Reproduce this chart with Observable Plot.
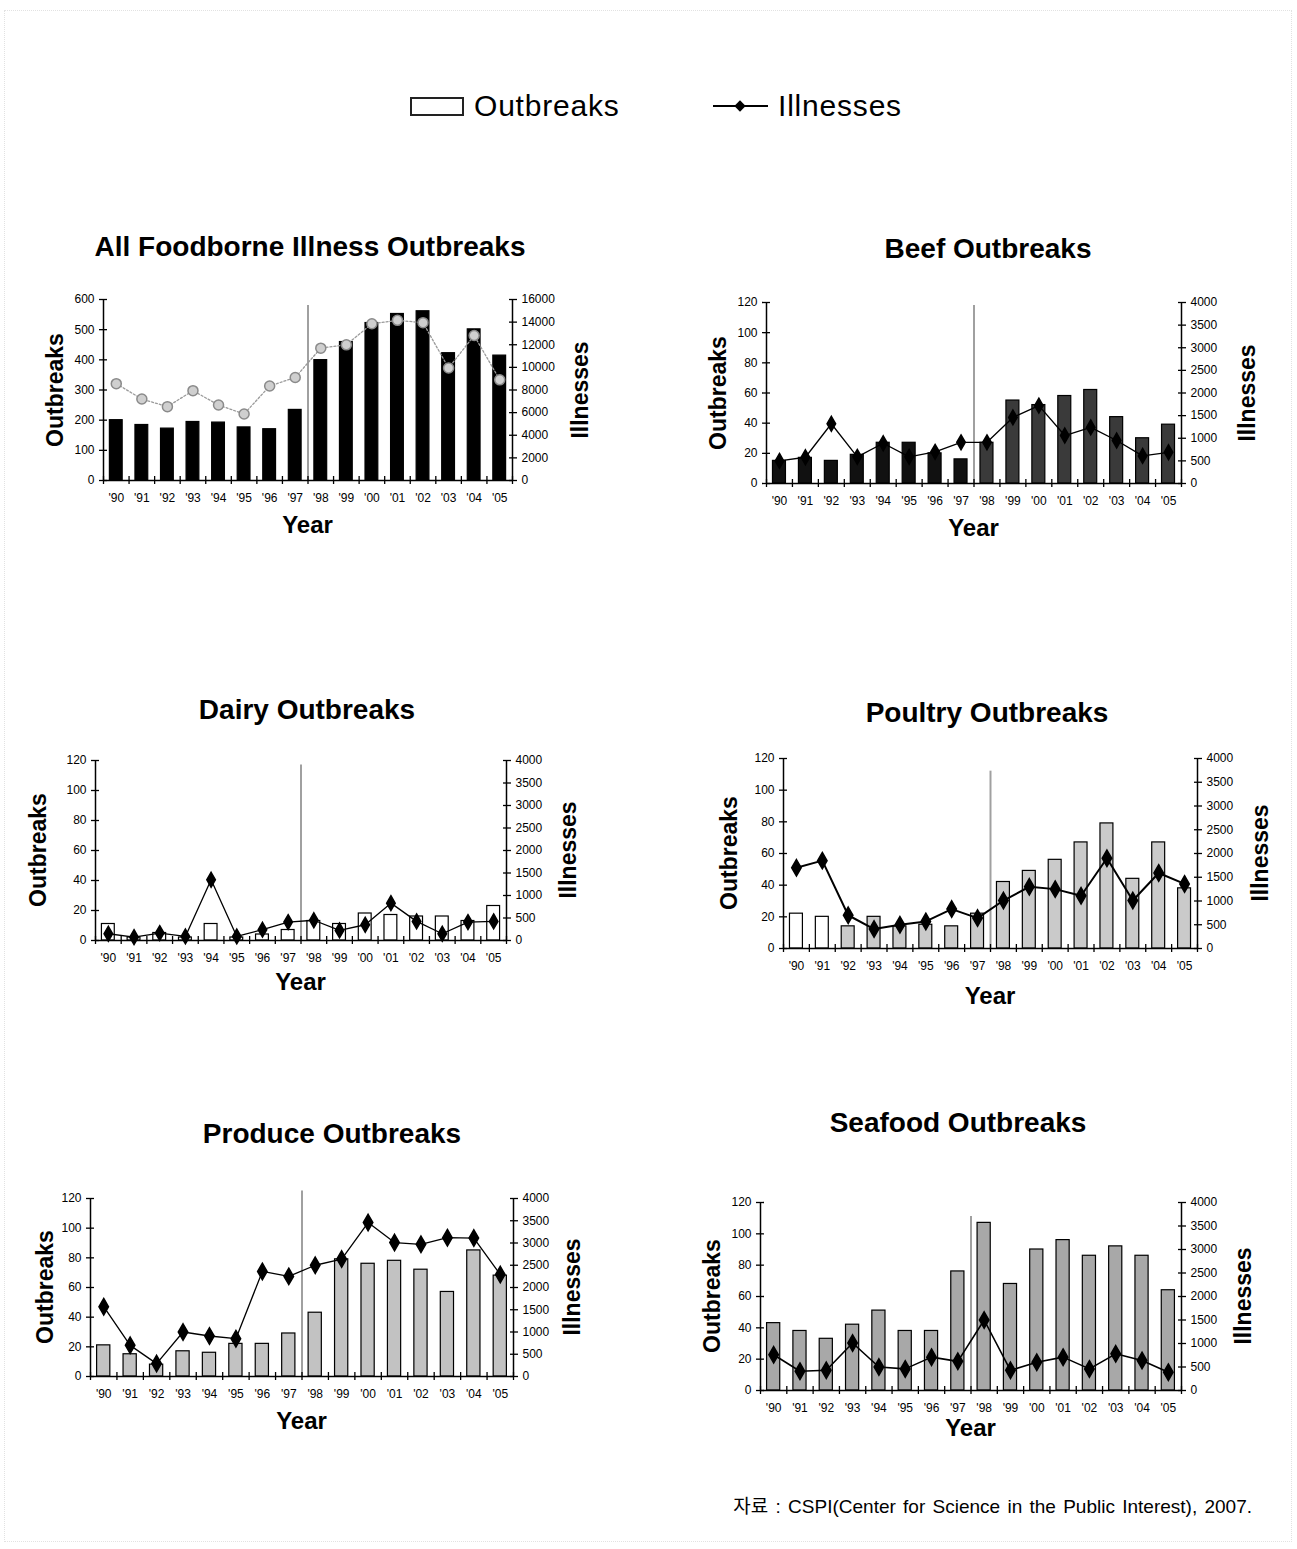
<!DOCTYPE html>
<html><head><meta charset="utf-8">
<script src="https://cdn.jsdelivr.net/npm/d3@7"></script>
<script src="https://cdn.jsdelivr.net/npm/@observablehq/plot@0.6"></script>
<style>
body{margin:0;background:#fff;font-family:"Liberation Sans",Arial,sans-serif;color:#000;}
#page{position:relative;width:1297px;height:1549px;overflow:hidden;background:#fff;}
.abs{position:absolute;white-space:nowrap;line-height:1;}
.title{font-weight:bold;font-size:28px;transform:translate(-50%,-50%);}
.ylab{font-weight:bold;font-size:23px;transform:translate(-50%,-50%) rotate(-90deg);}
.xlab{font-weight:bold;font-size:24px;transform:translate(-50%,-50%);}
.leg{font-size:30px;transform:translateY(-50%);letter-spacing:0.8px;}
#border{position:absolute;left:4px;top:10px;width:1286px;height:1530px;border:1px dotted #e2e2e2;}
</style></head><body><div id="page"><div id="border"></div></div>
<script>
// ---------- data ----------
const years = [1990,1991,1992,1993,1994,1995,1996,1997,1998,1999,2000,2001,2002,2003,2004,2005];
const yearLabels = ["'90","'91","'92","'93","'94","'95","'96","'97","'98","'99","'00","'01","'02","'03","'04","'05"];

const allOutbreaks = [200,184,172,194,192,176,170,234,399,459,522,552,561,422,501,414];
const allIllnesses = [8560,7200,6530,7940,6670,5880,8350,9110,11700,11990,13860,14160,13950,9940,12820,8900];

const beefOutbreaks = [15,17,15,19,27,27,20,16,27,55,52,58,62,44,30,39];
const beefIllnesses = [500,580,1320,590,890,590,700,910,910,1460,1720,1060,1240,950,610,690];

const dairyOutbreaks = [11,2,5,2,11,2,4,7,13,11,18,17,16,16,13,23];
const dairyIllnesses = [150,75,165,90,1350,90,240,410,450,225,350,830,425,150,410,425];

const poultryOutbreaks = [22,20,14,20,14,15,14,22,42,49,56,67,79,44,67,38];
const poultryIllnesses = [1700,1850,700,410,500,570,830,640,1010,1300,1250,1110,1900,1010,1590,1360];

const produceOutbreaks = [21,15,8,17,16,22,22,29,43,79,76,78,72,57,85,68];
const produceIllnesses = [1570,700,290,1000,910,850,2360,2250,2500,2640,3460,3010,2970,3120,3110,2290];

const seafoodOutbreaks = [43,38,33,42,51,38,38,76,107,68,90,96,86,92,86,64];
const seafoodIllnesses = [760,410,430,1010,500,460,710,620,1500,430,600,710,460,780,640,390];

const allLeftTicks = [0,100,200,300,400,500,600];
const allRightTicks = [0,2000,4000,6000,8000,10000,12000,14000,16000];
const leftTicks = [0,20,40,60,80,100,120];
const rightTicks = [0,500,1000,1500,2000,2500,3000,3500,4000];

const titles = ["All Foodborne Illness Outbreaks","Beef Outbreaks","Dairy Outbreaks","Poultry Outbreaks","Produce Outbreaks","Seafood Outbreaks"];
const reportingChangeYear = 1997.5;

// ---------- layout ----------
const page = document.getElementById("page");
function addText(cls, txt, x, y){
  const d = document.createElement("div");
  d.className = "abs " + cls; d.textContent = txt;
  d.style.left = x + "px"; d.style.top = y + "px";
  page.appendChild(d); return d;
}

const panels = [
  {title:titles[0], out:allOutbreaks, ill:allIllnesses, outMax:600, illMax:16000, lt:allLeftTicks, rt:allRightTicks,
   L:103, R:512, T:299, B:480, tx:310, ty:247, olx:55, ilx:580, yearY:525, ruleTop:580,
   fill:()=>"#000", line:"#9a9a9a", lw:1.3, dash:"2,2", sym:"circle", r:5, dfill:"#cfcfcf", dstroke:"#8a8a8a"},
  {title:titles[1], out:beefOutbreaks, ill:beefIllnesses, outMax:120, illMax:4000, lt:leftTicks, rt:rightTicks,
   L:766, R:1181, T:302, B:483, tx:988, ty:249, olx:718, ilx:1247, yearY:528, ruleTop:118,
   fill:y=> y<1998 ? "#111" : "#3a3a3a", line:"#000", lw:1.3, dash:null, sym:"diamond", r:4.5, dfill:"#000", dstroke:"#000"},
  {title:titles[2], out:dairyOutbreaks, ill:dairyIllnesses, outMax:120, illMax:4000, lt:leftTicks, rt:rightTicks,
   L:95, R:506, T:760, B:940, tx:307, ty:710, olx:38, ilx:568, yearY:982, ruleTop:117,
   fill:()=>"#fff", line:"#000", lw:1.3, dash:null, sym:"diamond", r:4.5, dfill:"#000", dstroke:"#000"},
  {title:titles[3], out:poultryOutbreaks, ill:poultryIllnesses, outMax:120, illMax:4000, lt:leftTicks, rt:rightTicks,
   L:783, R:1197, T:758, B:948, tx:987, ty:713, olx:729, ilx:1260, yearY:996, ruleTop:112,
   fill:y=> y<1992 ? "#fff" : "#cacaca", line:"#000", lw:2, dash:null, sym:"diamond", r:5, dfill:"#000", dstroke:"#000"},
  {title:titles[4], out:produceOutbreaks, ill:produceIllnesses, outMax:120, illMax:4000, lt:leftTicks, rt:rightTicks,
   L:90, R:513, T:1198, B:1376, tx:332, ty:1134, olx:45, ilx:572, yearY:1421, ruleTop:125,
   fill:()=>"#c2c2c2", line:"#000", lw:1.3, dash:null, sym:"diamond", r:5, dfill:"#000", dstroke:"#000"},
  {title:titles[5], out:seafoodOutbreaks, ill:seafoodIllnesses, outMax:120, illMax:4000, lt:leftTicks, rt:rightTicks,
   L:760, R:1181, T:1202, B:1390, tx:958, ty:1123, olx:712, ilx:1243, yearY:1428, ruleTop:111,
   fill:()=>"#a8a8a8", line:"#000", lw:1.6, dash:null, sym:"diamond", r:5, dfill:"#000", dstroke:"#000"}
];

const boundaries = years.map(y => y - 0.5).concat([years[years.length-1] + 0.5]);
const barHalf = 0.25;

panels.forEach(p => {
  const rows = years.map((y,i) => ({year:y, out:p.out[i], ill:p.ill[i]}));
  const ratio = p.illMax / p.outMax;
  const mL = 45, mR = 70, mT = 12, mB = 40;
  const chart = Plot.plot({
    width: p.R - p.L + mL + mR,
    height: p.B - p.T + mT + mB,
    marginLeft: mL, marginRight: mR, marginTop: mT, marginBottom: mB,
    x: {domain: [boundaries[0], boundaries[boundaries.length-1]]},
    y: {domain: [0, p.outMax]},
    style: {fontFamily: "Liberation Sans, Arial, sans-serif", fontSize: "12px", background: "transparent", overflow: "visible", color: "#000"},
    marks: [
      Plot.rectY(rows, {x1: d => d.year - barHalf, x2: d => d.year + barHalf, y: "out", fill: d => p.fill(d.year), stroke: "#000", strokeWidth: 1.2}),
      Plot.ruleX([reportingChangeYear], {y1: 0, y2: p.ruleTop, stroke: "#a0a0a0", strokeWidth: 2}),
      Plot.line(rows, {x: "year", y: d => d.ill / ratio, stroke: p.line, strokeWidth: p.lw, strokeDasharray: p.dash}),
      Plot.dot(rows, {x: "year", y: d => d.ill / ratio, symbol: p.sym, r: p.r, fill: p.dfill, stroke: p.dstroke, strokeWidth: 1.5}),
      Plot.ruleY([0], {stroke: "#000", strokeWidth: 1.5}),
      Plot.ruleX([boundaries[0], boundaries[boundaries.length-1]], {stroke: "#000", strokeWidth: 1.5}),
      Plot.axisX({ticks: years, tickSize: 0, tickPadding: 13, tickFormat: d => yearLabels[years.indexOf(d)], label: null}),
      Plot.axisX({ticks: boundaries, tickSize: 8, dy: -4, tickFormat: () => "", label: null, strokeWidth: 1.3}),
      Plot.axisY({ticks: p.lt, tickSize: 0, tickPadding: 9, label: null}),
      Plot.axisY({ticks: p.lt, tickSize: 8, dx: 4, tickFormat: () => "", label: null, strokeWidth: 1.3}),
      Plot.axisY({anchor: "right", ticks: p.rt.map(v => v / ratio), tickSize: 0, tickPadding: 9, tickFormat: d => String(Math.round(d * ratio)), label: null}),
      Plot.axisY({anchor: "right", ticks: p.rt.map(v => v / ratio), tickSize: 8, dx: -4, tickFormat: () => "", label: null, strokeWidth: 1.3})
    ]
  });
  chart.style.position = "absolute";
  chart.style.left = (p.L - mL) + "px";
  chart.style.top = (p.T - mT) + "px";
  page.appendChild(chart);
  addText("title", p.title, p.tx, p.ty);
  addText("ylab", "Outbreaks", p.olx, (p.T + p.B) / 2);
  addText("ylab", "Illnesses", p.ilx, (p.T + p.B) / 2);
  addText("xlab", "Year", (p.L + p.R) / 2, p.yearY);
});

// ---------- legend ----------
const box = document.createElement("div");
box.className = "abs";
Object.assign(box.style, {left: "410px", top: "97px", width: "50px", height: "15px", border: "2px solid #222", background: "#fff"});
page.appendChild(box);
addText("leg", "Outbreaks", 474, 106);
const ln = document.createElement("div");
ln.className = "abs";
Object.assign(ln.style, {left: "713px", top: "105px", width: "55px", height: "2px", background: "#000"});
page.appendChild(ln);
const dm = document.createElement("div");
dm.className = "abs";
Object.assign(dm.style, {left: "736px", top: "102px", width: "8px", height: "8px", background: "#000", transform: "rotate(45deg)"});
page.appendChild(dm);
addText("leg", "Illnesses", 778, 106);

// ---------- caption ----------
const cap = addText("", "자료 : CSPI(Center for Science in the Public Interest), 2007.", 0, 1497);
Object.assign(cap.style, {left: "auto", right: (1297 - 1252) + "px", fontSize: "19px", wordSpacing: "2px", fontFamily: "Liberation Sans, 'Noto Sans CJK KR', sans-serif"});
</script>
</body></html>
